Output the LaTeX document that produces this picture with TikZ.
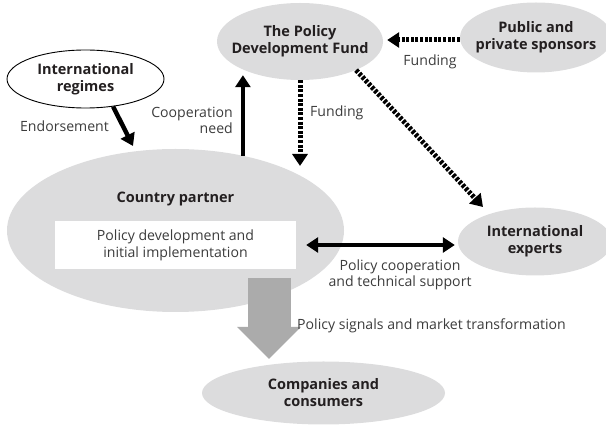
\documentclass[tikz,border=0pt]{standalone}
\usepackage{fontspec}
\setmainfont{Open Sans}
\usetikzlibrary{shapes.geometric,arrows.meta,calc}
\definecolor{ellgray}{HTML}{DCDCDD}
\definecolor{arrgray}{HTML}{ABABAB}
\definecolor{lbltext}{HTML}{3C3C3C}
\definecolor{boldtext}{HTML}{231F20}
\tikzset{
  boldfont/.style={font=\fontsize{14.5}{17}\selectfont\bfseries, text=boldtext, align=center, inner sep=0pt},
  oval/.style={ellipse, fill=ellgray, draw=none, inner sep=0pt,
    label={[boldfont]center:#1}},
  lbl/.style={font=\fontsize{14.1}{16}\selectfont, text=lbltext, inner sep=0pt},
  solidarr/.style={line width=4.5pt, -{Triangle[width=15pt,length=12pt]}},
  dotarr/.style={line width=5pt, dash pattern=on 3pt off 1.6pt, -{Triangle[width=15pt,length=12pt]}},
  dblarr/.style={line width=4.5pt, {Triangle[width=15pt,length=12pt]}-{Triangle[width=15pt,length=12pt]}},
  bigarr/.style={arrgray, line width=43pt, -{Triangle[width=62pt,length=32pt]}},
}
\begin{document}
\begin{tikzpicture}[x=1pt,y=-1pt]
\useasboundingbox (0,0) rectangle (606,427);
\clip (0,0) rectangle (606,427);
% nodes
\node[ellipse, fill=ellgray, inner sep=0pt, minimum width=337pt, minimum height=163pt] (cp) at (175.5,230.5) {};
\node[boldfont] (cptext) at (175.5,199) {Country partner};
\node[fill=white, minimum width=241pt, minimum height=48pt, inner sep=0pt, align=center,
  font=\fontsize{14.1}{17}\selectfont, text=lbltext] (box) at (175.5,245) {Policy development and\\initial implementation};
\node[oval={The Policy\\Development Fund}, minimum width=166pt, minimum height=77pt] (pdf) at (300,41.5) {};
\node[oval={Public and\\private sponsors}, minimum width=152pt, minimum height=70pt] (sp) at (536,37.5) {};
\node[oval={International\\regimes}, fill=white, draw=black, line width=0.9pt, minimum width=157pt, minimum height=58pt] (reg) at (85.5,79) {};
\node[oval={International\\experts}, minimum width=154pt, minimum height=68pt] (exp) at (535,241.5) {};
\node[oval={Companies and\\consumers}, minimum width=243pt, minimum height=63pt] (comp) at (323.5,393) {};
% coordinates for free arrow ends
\coordinate (endtip) at (133,146);
\coordinate (fundtip) at (300,166);
\coordinate (exptip) at (483,207);
\coordinate (bigtop) at (269,278);
\coordinate (bigtip) at (269,359);
% connectors
\draw[solidarr] (reg.-45) -- (endtip);
\draw[solidarr] (cp.48) -- ($(cp.48 |- pdf.south)+(0,-5)$);
\draw[dotarr] (pdf.south) -- (fundtip);
\draw[dotarr] (sp.west |- 0,40) -- ($(pdf.east |- 0,40)+(4,0)$);
\draw[dotarr] (pdf.-27) -- (exptip);
\draw[dblarr, shorten <=10pt, shorten >=3pt] (box.east) -- (box.east -| exp.west);
\draw[bigarr] (bigtop) -- (bigtip);
% labels
\node[lbl, anchor=center] (l1) at (64.5,126) {Endorsement};
\node[lbl, anchor=east, align=right] (l2) at (233,120.5) {Cooperation\\need};
\node[lbl, anchor=west] (l3) at (310,113) {Funding};
\node[lbl, anchor=center] (l4) at (430,62) {Funding};
\node[lbl, align=center] (l5) at (400,274.5) {Policy cooperation\\and technical support};
\node[lbl, anchor=west] (l6) at (297,326) {Policy signals and market transformation};
\end{tikzpicture}
\end{document}
